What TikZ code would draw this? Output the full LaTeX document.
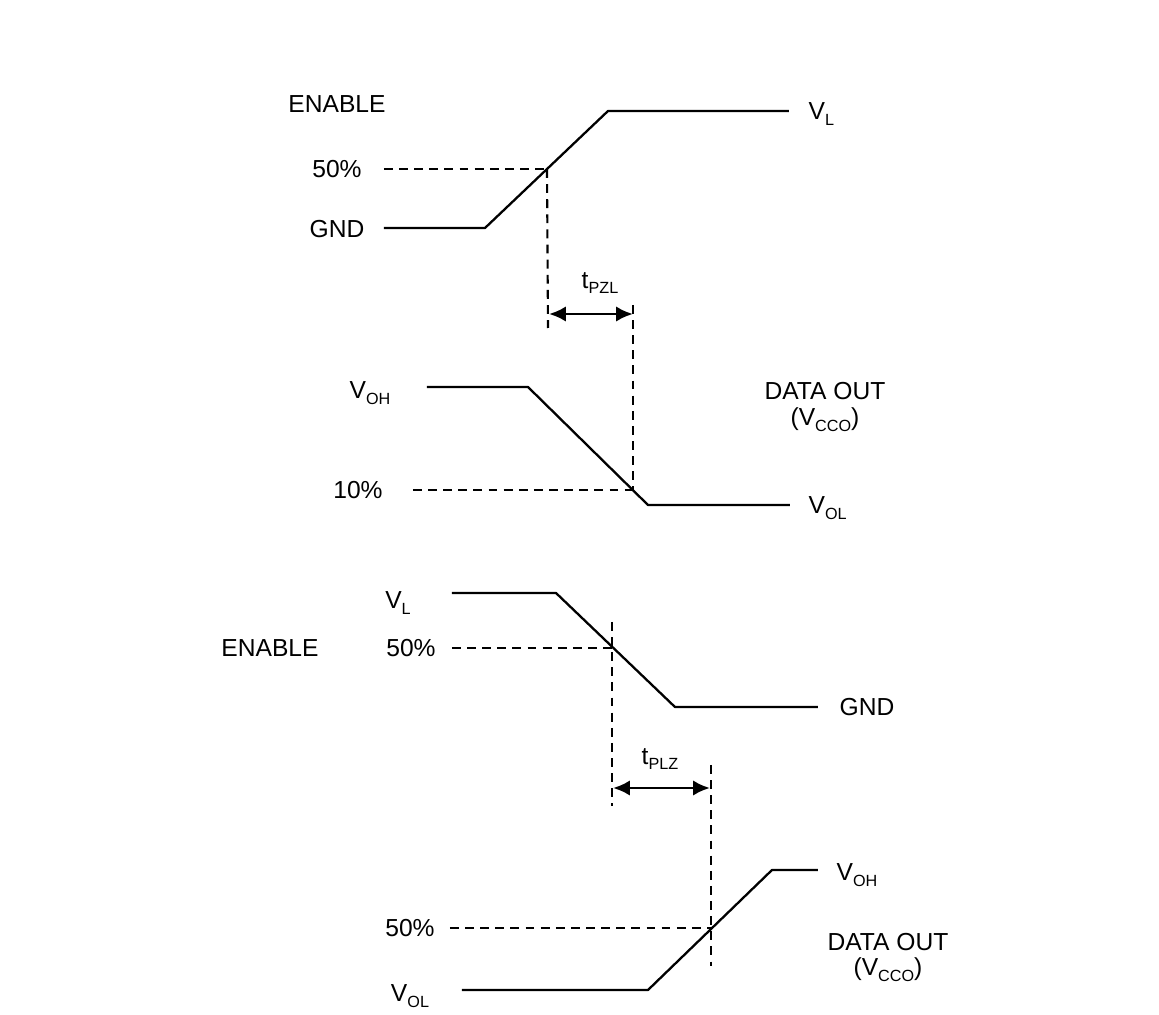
\documentclass[tikz,border=0pt]{standalone}
\usepackage{fontspec}
\setmainfont{Liberation Sans}
\usetikzlibrary{arrows.meta}
\newcommand{\lsub}[1]{\raisebox{-0.45ex}{\fontsize{4.6}{5}\selectfont #1}}
\tikzset{
  lbl/.style={inner sep=0pt, font=\fontsize{7}{8.4}\selectfont, align=center},
  sig/.style={line width=0.65pt, line join=round},
  dsh/.style={line width=0.6pt, dash pattern=on 2.5pt off 1.8pt},
  dim/.style={line width=0.85pt, {Latex[length=4.8pt,width=4.4pt]}-{Latex[length=4.8pt,width=4.4pt]}}
}
\begin{document}
\begin{tikzpicture}[x=0.01cm,y=-0.01cm]
\useasboundingbox (0,0) rectangle (1159,1015);
% ---------- Panel 1: ENABLE rising ----------
\node[lbl] (en1) at (337,104) {ENABLE};
\node[lbl] (p50a) at (337,169) {50\%};
\node[lbl] (gnd1) at (337,229) {GND};
\node[lbl, anchor=west] (vl1) at (808,114) {V\lsub{L}};
\coordinate (a0) at (384,228);
\coordinate (a1) at (485,228);
\coordinate (a2) at (608,111);
\coordinate (a3) at (789,111);
\draw[sig] (a0) -- (a1) -- (a2) -- (a3);
\coordinate (c1) at (547,169);
\coordinate (d1s) at (384,169);
\draw[dsh] (d1s) -- (c1);
\coordinate (v1b) at (548,328);
\draw[dsh] (c1) -- (v1b);
% ---------- Panel 2: DATA OUT falling ----------
\node[lbl] (voh2) at (370,393) {V\lsub{OH}};
\node[lbl] (p10) at (358,490) {10\%};
\node[lbl, anchor=west] (vol2) at (808,508) {V\lsub{OL}};
\node[lbl] (do2) at (825,391) {DATA OUT};
\node[lbl] (vcco2) at (825,420) {(V\lsub{CCO})};
\coordinate (b0) at (427,387);
\coordinate (b1) at (528,387);
\coordinate (b2) at (648,505);
\coordinate (b3) at (790,505);
\draw[sig] (b0) -- (b1) -- (b2) -- (b3);
\coordinate (c2) at (633,490);
\coordinate (d2s) at (413,490);
\draw[dsh] (d2s) -- (c2);
\coordinate (v2t) at (633,305);
\draw[dsh] (v2t) -- (c2);
% t_PZL
\coordinate (ar1l) at (549,314);
\coordinate (ar1r) at (633,314);
\draw[dim] (ar1l) -- (ar1r);
\node[lbl] (tpzl) at (600,283) {t\lsub{PZL}};
% ---------- Panel 3: ENABLE falling ----------
\node[lbl] (vl3) at (398,603) {V\lsub{L}};
\node[lbl] (en3) at (270,648) {ENABLE};
\node[lbl] (p50c) at (411,648) {50\%};
\node[lbl, anchor=west] (gnd3) at (839,707) {GND};
\coordinate (e0) at (452,593);
\coordinate (e1) at (556,593);
\coordinate (e2) at (675,707);
\coordinate (e3) at (818,707);
\draw[sig] (e0) -- (e1) -- (e2) -- (e3);
\coordinate (c3) at (612,648);
\coordinate (d3s) at (452,648);
\draw[dsh] (d3s) -- (c3);
\coordinate (v3t) at (612,622);
\coordinate (v3b) at (612,806);
\draw[dsh] (v3t) -- (v3b);
% ---------- Panel 4: DATA OUT rising ----------
\node[lbl] (p50d) at (410,928) {50\%};
\node[lbl] (vol4) at (410,996) {V\lsub{OL}};
\node[lbl, anchor=west] (voh4) at (836,875) {V\lsub{OH}};
\node[lbl] (do4) at (888,942) {DATA OUT};
\node[lbl] (vcco4) at (888,970) {(V\lsub{CCO})};
\coordinate (f0) at (462,990);
\coordinate (f1) at (648,990);
\coordinate (f2) at (772,870);
\coordinate (f3) at (818,870);
\draw[sig] (f0) -- (f1) -- (f2) -- (f3);
\coordinate (c4) at (711,928);
\coordinate (d4s) at (450,928);
\draw[dsh] (d4s) -- (c4);
\coordinate (v4t) at (711,765);
\coordinate (v4b) at (711,966);
\draw[dsh] (v4t) -- (v4b);
% t_PLZ
\coordinate (ar2l) at (613,788);
\coordinate (ar2r) at (710,788);
\draw[dim] (ar2l) -- (ar2r);
\node[lbl] (tplz) at (660,759) {t\lsub{PLZ}};
\end{tikzpicture}
\end{document}
